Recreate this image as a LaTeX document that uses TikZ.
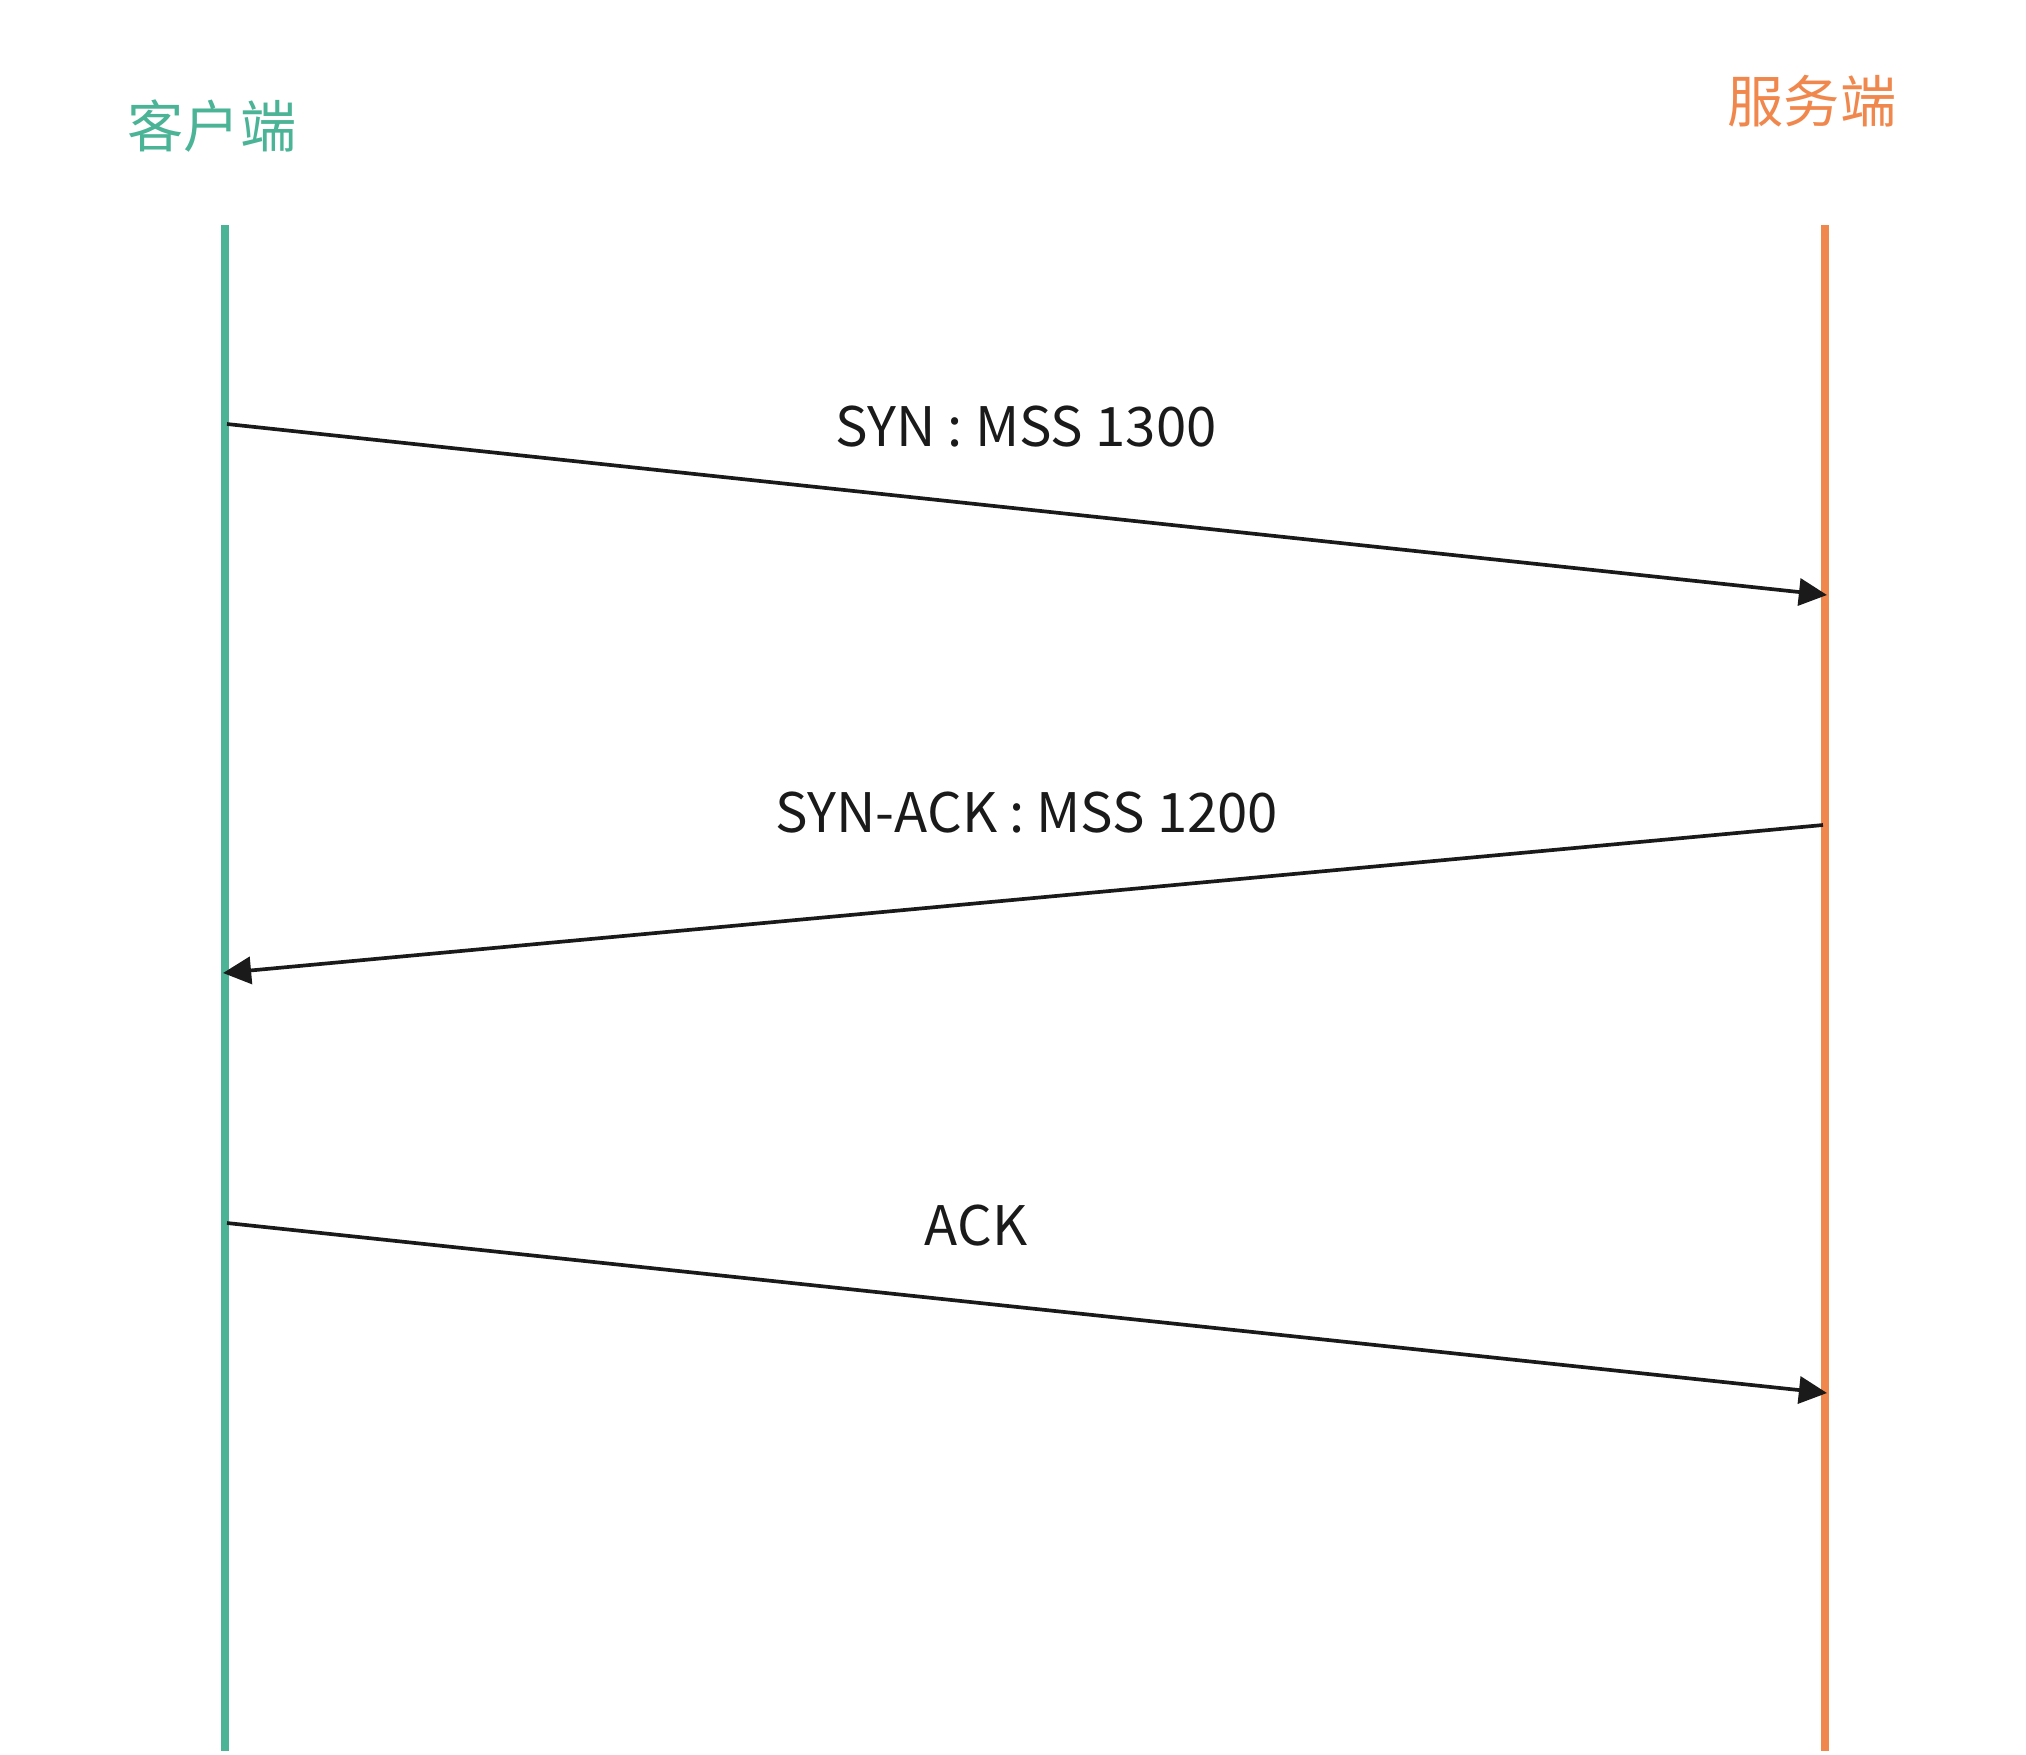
\documentclass[tikz,border=0pt]{standalone}
\usepackage{fontspec}
\setmainfont{Noto Sans CJK SC}
\usepackage{tikz}
\usetikzlibrary{arrows.meta,positioning}
\definecolor{clientgreen}{HTML}{4BB396}
\definecolor{serverorange}{HTML}{F0884E}
\definecolor{msgblack}{HTML}{1A1A1A}
\tikzset{>={Triangle[length=8pt,width=7.7pt]}}

\begin{document}
\begin{tikzpicture}[lifeline/.style={line width=2.3pt},msg/.style={->,draw=msgblack,line width=1.05pt},msglabel/.style={anchor=base,text=msgblack,font=\fontsize{15.5}{18}\selectfont},role/.style={font=\fontsize{16}{20}\selectfont}]
\useasboundingbox (0,0) rectangle (20.26,-17.54);
\node[role,text=clientgreen] (client) at (2.12,-1.26) {客户端};
\node[role,text=serverorange] (server) at (18.12,-1.01) {服务端};
\coordinate (ctop) at (2.25,-2.25);
\coordinate (cbot) at (2.25,-17.51);
\coordinate (stop) at (18.25,-2.25);
\coordinate (sbot) at (18.25,-17.51);
\draw[lifeline,clientgreen] (ctop) -- (cbot);
\draw[lifeline,serverorange] (stop) -- (sbot);
% messages
\coordinate (c1) at (2.27,-4.24);
\coordinate (s1) at (18.27,-5.95);
\coordinate (s2) at (18.23,-8.25);
\coordinate (c2) at (2.23,-9.73);
\coordinate (c3) at (2.27,-12.23);
\coordinate (s3) at (18.27,-13.93);
\draw[msg] (c1) -- (s1);
\draw[msg] (s2) -- (c2);
\draw[msg] (c3) -- (s3);
\node[msglabel] (syn) at (10.26,-4.46) {SYN : MSS 1300};
\node[msglabel] (synack) at (10.27,-8.32) {SYN-ACK : MSS 1200};
\node[msglabel] (ack) at (9.76,-12.45) {ACK};
\end{tikzpicture}
\end{document}
